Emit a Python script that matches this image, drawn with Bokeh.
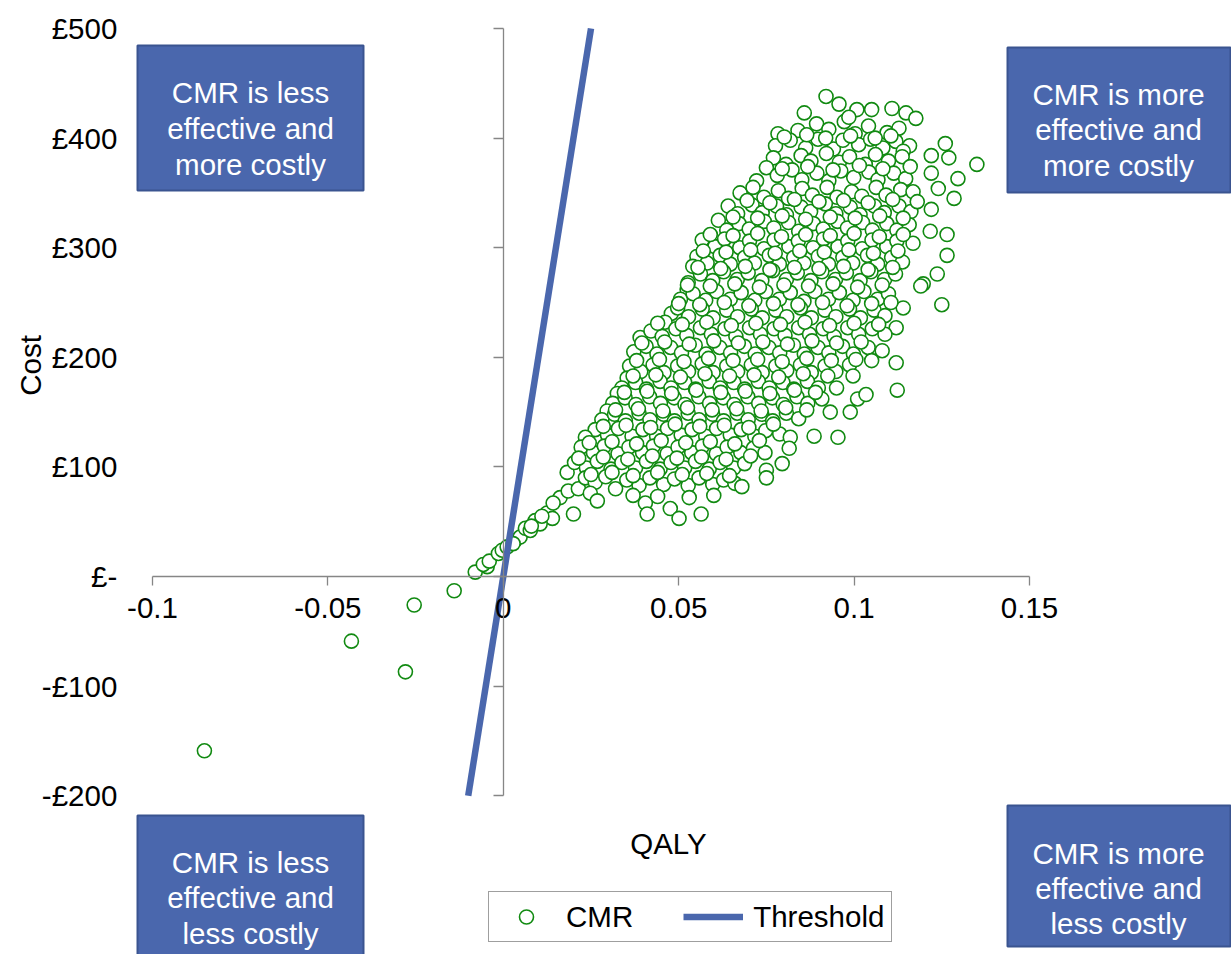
import math
from bokeh.plotting import figure
from bokeh.models import Range1d, LinearAxis, FixedTicker, Legend, LegendItem
from bokeh.core.properties import value
from bokeh.embed import file_html
from bokeh.resources import INLINE

# ---------------- data ----------------
qaly = [
    0.0920, 0.0957, 0.1008, 0.1050, 0.1108, 0.1148, 0.1176, 0.0858,
    0.0783, 0.0840, 0.0893, 0.0928, 0.0972, 0.1003, 0.1041, 0.1094, 0.1128, 0.0985,
    0.0776, 0.0818, 0.0862, 0.0897, 0.0941, 0.0968, 0.1013, 0.1047, 0.1082, 0.1119, 0.1158, 0.1260, 0.1140,
    0.0770, 0.0806, 0.0849, 0.0877, 0.0921, 0.0958, 0.0987, 0.1032, 0.1061, 0.1098, 0.1137, 0.1220, 0.1270, 0.1350,
    0.0750, 0.0722, 0.0781, 0.0823, 0.0851, 0.0894, 0.0928, 0.0962, 0.0999, 0.1042, 0.1068, 0.1113, 0.1147, 0.1220, 0.1296,
    0.0675, 0.0712, 0.0743, 0.0784, 0.0813, 0.0852, 0.0881, 0.0923, 0.0951, 0.0993, 0.1022, 0.1063, 0.1091, 0.1133, 0.1168, 0.1240, 0.1285,
    0.0641, 0.0668, 0.0709, 0.0738, 0.0779, 0.0807, 0.0849, 0.0876, 0.0918, 0.0948, 0.0989, 0.1017, 0.1058, 0.1086, 0.1128, 0.1162, 0.1220,
    0.0613, 0.0637, 0.0672, 0.0701, 0.0744, 0.0771, 0.0813, 0.0842, 0.0884, 0.0912, 0.0953, 0.0981, 0.1024, 0.1052, 0.1093, 0.1122, 0.1157, 0.1217, 0.1265,
    0.0567, 0.0603, 0.0631, 0.0674, 0.0702, 0.0743, 0.0772, 0.0814, 0.0841, 0.0883, 0.0913, 0.0954, 0.0982, 0.1023, 0.1051, 0.1093, 0.1122, 0.1168,
    0.0552, 0.0581, 0.0618, 0.0647, 0.0688, 0.0716, 0.0758, 0.0787, 0.0828, 0.0857, 0.0898, 0.0927, 0.0968, 0.0996, 0.1038, 0.1067, 0.1107, 0.1138, 0.1265,
    0.0540, 0.0527, 0.0562, 0.0597, 0.0628, 0.0667, 0.0698, 0.0737, 0.0768, 0.0807, 0.0838, 0.0877, 0.0908, 0.0947, 0.0978, 0.1017, 0.1048, 0.1087, 0.1118, 0.1237, 0.1197,
    0.0524, 0.0505, 0.0541, 0.0577, 0.0608, 0.0647, 0.0678, 0.0717, 0.0748, 0.0787, 0.0818, 0.0857, 0.0888, 0.0927, 0.0958, 0.0997, 0.1028, 0.1067, 0.1098, 0.1190, 0.1250,
    0.0479, 0.0461, 0.0497, 0.0528, 0.0567, 0.0598, 0.0637, 0.0668, 0.0707, 0.0738, 0.0777, 0.0808, 0.0847, 0.0878, 0.0917, 0.0948, 0.0987, 0.1018, 0.1057, 0.1088, 0.1140,
    0.0390, 0.0421, 0.0453, 0.0492, 0.0523, 0.0562, 0.0593, 0.0632, 0.0663, 0.0702, 0.0733, 0.0772, 0.0803, 0.0842, 0.0873, 0.0912, 0.0943, 0.0982, 0.1013, 0.1052, 0.1120, 0.1088,
    0.0372, 0.0407, 0.0438, 0.0477, 0.0508, 0.0547, 0.0578, 0.0617, 0.0648, 0.0687, 0.0718, 0.0757, 0.0788, 0.0827, 0.0858, 0.0897, 0.0928, 0.0967, 0.0998, 0.1040, 0.1080,
    0.0360, 0.0392, 0.0427, 0.0458, 0.0497, 0.0528, 0.0567, 0.0598, 0.0637, 0.0668, 0.0707, 0.0738, 0.0777, 0.0808, 0.0847, 0.0878, 0.0917, 0.0948, 0.0987, 0.1050, 0.1120,
    0.0353, 0.0338, 0.0377, 0.0408, 0.0447, 0.0478, 0.0517, 0.0548, 0.0587, 0.0618, 0.0657, 0.0688, 0.0727, 0.0758, 0.0797, 0.0828, 0.0867, 0.0898, 0.0950, 0.0997, 0.1123,
    0.0325, 0.0312, 0.0347, 0.0378, 0.0417, 0.0448, 0.0487, 0.0518, 0.0557, 0.0588, 0.0627, 0.0658, 0.0697, 0.0728, 0.0767, 0.0798, 0.0837, 0.0868, 0.0908, 0.1010, 0.1034,
    0.0296, 0.0281, 0.0317, 0.0348, 0.0387, 0.0418, 0.0457, 0.0488, 0.0527, 0.0558, 0.0597, 0.0628, 0.0667, 0.0698, 0.0737, 0.0768, 0.0807, 0.0842, 0.0989, 0.0932,
    0.0262, 0.0234, 0.0297, 0.0328, 0.0367, 0.0398, 0.0437, 0.0468, 0.0507, 0.0538, 0.0577, 0.0608, 0.0647, 0.0678, 0.0717, 0.0748, 0.0788, 0.0818, 0.0886, 0.0954,
    0.0222, 0.0257, 0.0288, 0.0327, 0.0358, 0.0397, 0.0428, 0.0467, 0.0498, 0.0537, 0.0568, 0.0607, 0.0638, 0.0677, 0.0713, 0.0746, 0.0815,
    0.0182, 0.0203, 0.0237, 0.0268, 0.0307, 0.0338, 0.0377, 0.0408, 0.0447, 0.0478, 0.0517, 0.0548, 0.0587, 0.0618, 0.0657, 0.0688, 0.0795, 0.0750,
    0.0162, 0.0185, 0.0214, 0.0234, 0.0262, 0.0292, 0.0320, 0.0352, 0.0387, 0.0418, 0.0457, 0.0488, 0.0527, 0.0558, 0.0597, 0.0628, 0.0660, 0.0680, 0.0750,
    0.0248, 0.0268, 0.0125, 0.0140, 0.0142, 0.0200, 0.0405, 0.0410, 0.0476, 0.0501, 0.0564, 0.0370, 0.0440, 0.0530, 0.0600,
    -0.0080, -0.0046, -0.0057, -0.0040, -0.0014, -0.0003, 0.0011, 0.0034, 0.0048, 0.0063, 0.0077, 0.0091, 0.0105, 0.0080, 0.0110, 0.0028,
    -0.0852, -0.0433, -0.0279, -0.0254, -0.0140,
    # in-between rows of the dense core
    0.0801, 0.0865, 0.0919, 0.0990, 0.1060, 0.1105,
    0.0795, 0.0868, 0.0940, 0.1015, 0.1082, 0.1160,
    0.0695, 0.0760, 0.0830, 0.0900, 0.0970, 0.1040, 0.1110, 0.1180,
    0.0655, 0.0725, 0.0795, 0.0862, 0.0932, 0.1003, 0.1073, 0.1140,
    0.0590, 0.0655, 0.0725, 0.0793, 0.0862, 0.0932, 0.1000, 0.1072, 0.1140,
    0.0570, 0.0635, 0.0705, 0.0775, 0.0845, 0.0915, 0.0985, 0.1055, 0.1125,
    0.0555, 0.0620, 0.0690, 0.0760, 0.0830, 0.0900, 0.0970, 0.1040, 0.1110,
    0.0525, 0.0590, 0.0660, 0.0730, 0.0800, 0.0870, 0.0940, 0.1010, 0.1080,
    0.0500, 0.0560, 0.0630, 0.0700, 0.0770, 0.0840, 0.0910, 0.0980, 0.1050, 0.1105,
    0.0440, 0.0510, 0.0580, 0.0650, 0.0720, 0.0790, 0.0860, 0.0930, 0.1000, 0.1070,
    0.0395, 0.0460, 0.0530, 0.0600, 0.0670, 0.0740, 0.0810, 0.0880, 0.0950, 0.1020,
    0.0380, 0.0445, 0.0515, 0.0585, 0.0655, 0.0725, 0.0795, 0.0865, 0.0935, 0.1005,
    0.0370, 0.0435, 0.0505, 0.0575, 0.0645, 0.0715, 0.0785, 0.0855, 0.0925,
    0.0345, 0.0410, 0.0480, 0.0550, 0.0620, 0.0690, 0.0760, 0.0830, 0.0890,
    0.0320, 0.0385, 0.0455, 0.0525, 0.0595, 0.0665, 0.0735, 0.0805, 0.0865,
    0.0285, 0.0350, 0.0420, 0.0490, 0.0560, 0.0630, 0.0700, 0.0770,
    0.0245, 0.0310, 0.0380, 0.0450, 0.0520, 0.0590, 0.0660, 0.0730,
    0.0215, 0.0285, 0.0355, 0.0425, 0.0495, 0.0565, 0.0635, 0.0705,
    0.0250, 0.0310, 0.0370, 0.0440, 0.0510, 0.0580, 0.0645,
]
cost = [
    438, 431, 426, 426, 427, 423, 418, 423,
    404, 407, 413, 408, 415, 404, 411, 405, 409, 419,
    393, 398, 391, 399, 390, 398, 394, 399, 391, 397, 393, 395, 388,
    382, 376, 384, 379, 386, 378, 383, 376, 385, 379, 383, 384, 382, 376,
    373, 361, 366, 371, 362, 368, 361, 370, 364, 369, 362, 368, 363, 368, 363,
    350, 355, 346, 352, 345, 354, 348, 355, 346, 351, 347, 355, 348, 353, 351, 354, 345,
    338, 331, 339, 332, 338, 330, 337, 333, 340, 331, 337, 330, 338, 332, 338, 333, 335,
    325, 316, 322, 317, 324, 318, 323, 315, 322, 317, 324, 318, 323, 316, 322, 316, 321, 315, 312,
    307, 301, 308, 300, 306, 299, 307, 301, 306, 300, 308, 301, 306, 299, 307, 301, 306, 304,
    292, 286, 293, 285, 291, 286, 293, 285, 291, 286, 292, 285, 291, 286, 293, 285, 291, 287, 293,
    283, 268, 276, 270, 278, 271, 277, 270, 279, 271, 277, 270, 278, 271, 277, 270, 278, 271, 276, 276, 267,
    262, 253, 258, 252, 260, 253, 259, 252, 260, 253, 259, 251, 260, 253, 259, 252, 260, 253, 258, 265, 248,
    240, 232, 245, 237, 244, 236, 243, 237, 244, 236, 243, 237, 245, 236, 243, 237, 244, 236, 243, 238, 245,
    218, 224, 219, 226, 220, 227, 221, 226, 219, 227, 221, 226, 220, 227, 221, 226, 219, 227, 221, 226, 227, 221,
    205, 210, 203, 209, 204, 211, 203, 209, 204, 210, 203, 209, 204, 211, 203, 209, 204, 210, 203, 209, 206,
    192, 187, 193, 186, 192, 187, 194, 186, 192, 187, 193, 186, 192, 188, 193, 186, 192, 187, 193, 197, 195,
    181, 172, 177, 171, 178, 172, 177, 171, 178, 172, 177, 171, 178, 172, 177, 171, 178, 172, 172, 183, 170,
    167, 158, 163, 157, 164, 158, 163, 157, 164, 158, 163, 157, 164, 158, 163, 157, 164, 158, 162, 162, 166,
    151, 143, 148, 142, 149, 143, 148, 142, 149, 143, 148, 142, 149, 143, 148, 142, 149, 144, 150, 150,
    134, 127, 129, 135, 128, 134, 128, 135, 129, 134, 128, 135, 129, 134, 128, 133, 130, 127, 128, 127,
    118, 113, 119, 112, 118, 113, 119, 112, 118, 113, 119, 112, 118, 113, 117, 113, 117,
    95, 104, 99, 105, 98, 104, 99, 105, 98, 104, 99, 105, 98, 104, 99, 103, 103, 97,
    72, 78, 80, 90, 86, 91, 80, 88, 83, 90, 84, 89, 83, 90, 84, 88, 85, 82, 90,
    76, 69, 58, 53, 67, 57, 67, 57, 62, 53, 57, 74, 73, 72, 74,
    4, 9, 11, 14, 21, 24, 27, 33, 36, 44, 42, 51, 48, 46, 55, 30,
    -159, -59, -87, -26, -13,
    # in-between rows of the dense core
    401, 403, 400, 402, 400, 402,
    372, 374, 371, 375, 372, 374,
    343, 341, 344, 342, 343, 341, 344, 342,
    328, 327, 329, 326, 328, 327, 329, 327,
    312, 311, 313, 310, 312, 311, 313, 310, 312,
    297, 296, 298, 295, 297, 296, 298, 295, 297,
    282, 281, 283, 280, 282, 281, 283, 280, 282,
    266, 265, 267, 264, 266, 265, 267, 264, 266,
    249, 248, 250, 247, 249, 248, 250, 247, 249, 250,
    231, 230, 232, 229, 231, 230, 232, 229, 231, 230,
    213, 214, 212, 215, 213, 214, 212, 215, 213, 214,
    197, 198, 196, 199, 197, 198, 196, 199, 197, 198,
    183, 184, 182, 185, 183, 184, 182, 185, 183,
    168, 169, 167, 170, 168, 169, 167, 170, 168,
    152, 153, 151, 154, 152, 153, 151, 154, 152,
    137, 138, 136, 139, 137, 138, 136, 139,
    122, 123, 121, 124, 122, 123, 121, 124,
    108, 109, 107, 110, 108, 109, 107, 110,
    93, 95, 92, 95, 93, 94, 92,
]
assert len(qaly) == len(cost)

threshold_qaly = [-0.01, 0.025]
threshold_cost = [-200, 500]

x_ticks = [-0.1, -0.05, 0, 0.05, 0.1, 0.15]
x_tick_labels = ["-0.1", "-0.05", "0", "0.05", "0.1", "0.15"]
y_ticks = [-200, -100, 0, 100, 200, 300, 400, 500]
y_tick_labels = ["-£200", "-£100", "£-", "£100", "£200", "£300", "£400", "£500"]

quadrant_lines = [
    ["CMR is less", "effective and", "more costly"],
    ["CMR is more", "effective and", "more costly"],
    ["CMR is less", "effective and", "less costly"],
    ["CMR is more", "effective and", "less costly"],
]

# ---------------- layout ----------------
W, H = 1231, 954
PX_X0, PX_X1 = 152.0, 1029.0      # pixel of qaly -0.1 and 0.15
PX_Y0, PX_Y1 = 576.0, 28.0        # pixel of cost 0 and 500
DX = 0.25 / (PX_X1 - PX_X0)
DY = 500.0 / (PX_Y0 - PX_Y1)
x_start = -0.1 - PX_X0 * DX
x_end = -0.1 + (W - PX_X0) * DX
y_end = 500.0 + PX_Y1 * DY
y_start = -(H - PX_Y0) * DY


def dx(px):
    return x_start + px * DX


def dy(py):
    return y_end - py * DY


FONT = "Liberation Sans"
FS = "29.5px"
BOX = "#4A67AD"
BOX_EDGE = "#3A5490"
LINE_BLUE = "#4A67AD"
GREEN = "#118A11"
AXIS = "#868686"

p = figure(width=W, height=H, x_range=Range1d(x_start, x_end), y_range=Range1d(y_start, y_end),
           output_backend="svg", toolbar_location=None,
           x_axis_location=None, y_axis_location=None,
           min_border=0, min_border_left=0, min_border_right=0, min_border_top=0, min_border_bottom=0,
           outline_line_color=None, background_fill_color="white", border_fill_color="white")
p.xgrid.grid_line_color = None
p.ygrid.grid_line_color = None

# x axis crossing at cost 0
xa = LinearAxis(fixed_location=0, ticker=FixedTicker(ticks=x_ticks), bounds=(-0.1, 0.15),
                major_label_overrides={t: l for t, l in zip(x_ticks, x_tick_labels)})
xa.axis_line_color = AXIS
xa.axis_line_width = 1.3
xa.major_tick_line_color = AXIS
xa.major_tick_line_width = 1.3
xa.major_tick_out = 9
xa.major_tick_in = 0
xa.minor_tick_line_color = None
xa.major_label_text_font = FONT
xa.major_label_text_font_size = FS
xa.major_label_text_color = "black"
xa.major_label_standoff = 12
p.add_layout(xa, "below")

# y axis crossing at qaly 0, labels placed at the left edge
ya = LinearAxis(fixed_location=0, ticker=FixedTicker(ticks=y_ticks), bounds=(-200, 500),
                major_label_overrides={t: l for t, l in zip(y_ticks, y_tick_labels)})
ya.axis_line_color = AXIS
ya.axis_line_width = 1.3
ya.major_tick_line_color = AXIS
ya.major_tick_line_width = 1.3
ya.major_tick_out = 10
ya.major_tick_in = 0
ya.minor_tick_line_color = None
ya.major_label_text_font = FONT
ya.major_label_text_font_size = FS
ya.major_label_text_color = "black"
ya.major_label_standoff = int(503 - 10 - 117)
p.add_layout(ya, "left")

# axis titles
p.text(x=[dx(30)], y=[dy(365)], text=["Cost"], angle=math.pi / 2, text_align="center",
       text_baseline="middle", text_font=value(FONT), text_font_size=value(FS), text_color="black")
p.text(x=[dx(668)], y=[dy(843)], text=["QALY"], text_align="center", text_baseline="alphabetic",
       text_font=value(FONT), text_font_size=value(FS), text_color="black")

# quadrant boxes
boxes_px = [(137, 363, 45, 190), (1007, 1230, 47, 192), (137, 363, 815, 975), (1007, 1230, 805, 946)]
p.quad(left=[dx(b[0]) for b in boxes_px], right=[dx(b[1]) for b in boxes_px],
       top=[dy(b[2]) for b in boxes_px], bottom=[dy(b[3]) for b in boxes_px],
       fill_color=BOX, line_color=BOX_EDGE, line_width=2)
centres = [250, 1118, 250, 1118]
baselines = [(92, 128, 164), (94, 129, 165), (862, 897, 933), (853, 888, 923)]
tx, ty, tt = [], [], []
for lines, cx, bls in zip(quadrant_lines, centres, baselines):
    for line, bl in zip(lines, bls):
        tx.append(dx(cx))
        ty.append(dy(bl))
        tt.append(line)
p.text(x=tx, y=ty, text=tt, text_align="center", text_baseline="alphabetic",
       text_font=value(FONT), text_font_size=value(FS), text_color="white")

# data
sc = p.scatter(qaly, cost, marker="circle", size=14, fill_color="white", line_color=GREEN, line_width=1.6)
ln = p.line(threshold_qaly, threshold_cost, line_color=LINE_BLUE, line_width=6.5)

legend = Legend(items=[LegendItem(label="CMR", renderers=[sc]), LegendItem(label="Threshold", renderers=[ln])],
                location=(488, 12), orientation="horizontal", padding=7, spacing=50,
                glyph_width=60, glyph_height=35, label_standoff=10, margin=0,
                label_text_font=FONT, label_text_font_size=FS, label_text_color="black",
                border_line_color="#404040", border_line_width=1, background_fill_color="white",
                background_fill_alpha=1.0)
p.add_layout(legend)

open("out.html", "w").write(file_html(p, INLINE))
